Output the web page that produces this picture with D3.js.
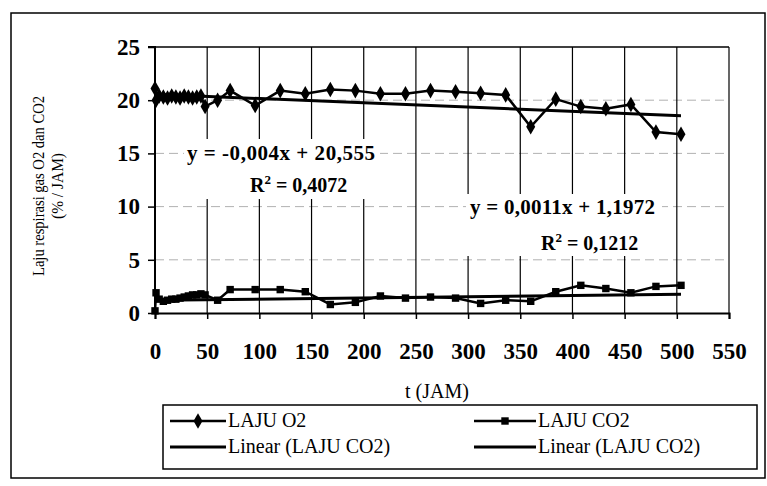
<!DOCTYPE html>
<html>
<head>
<meta charset="utf-8">
<script src="https://cdn.jsdelivr.net/npm/d3@7"></script>
<style>
  html, body { margin: 0; padding: 0; background: #fff; }
  svg { display: block; }
  svg text { font-family: "Liberation Serif", "Times New Roman", Times, serif; fill: #000; }
</style>
</head>
<body>
<svg id="chart" width="767" height="486"></svg>
<script>
// Sampling times (hours)
const times = [0, 1, 4, 8, 12, 16, 20, 24, 28, 32, 36, 40, 44, 48, 60, 72, 96, 120, 144, 168,
               192, 216, 240, 264, 288, 312, 336, 360, 384, 408, 432, 456, 480, 504];
// O2 respiration rate (% / JAM)
const lajuO2 = [21.1, 20.0, 20.4, 20.3, 20.2, 20.4, 20.3, 20.2, 20.4, 20.3, 20.2, 20.3, 20.4, 19.4,
                20.0, 20.9, 19.5, 20.9, 20.6, 21.0, 20.9, 20.6, 20.6, 20.9, 20.8, 20.65, 20.5, 17.5,
                20.1, 19.4, 19.2, 19.6, 17.0, 16.8];
// CO2 respiration rate (% / JAM)
const lajuCO2 = [0.2, 1.9, 1.3, 1.1, 1.2, 1.3, 1.3, 1.4, 1.5, 1.6, 1.7, 1.7, 1.8, 1.7,
                 1.2, 2.2, 2.2, 2.2, 2.0, 0.8, 1.0, 1.6, 1.4, 1.5, 1.4, 0.9, 1.2, 1.1,
                 2.0, 2.6, 2.3, 1.9, 2.5, 2.6];
// Linear trend lines: [slope, intercept, R²]
const trendO2 = [-0.004, 20.555, 0.4072];
const trendCO2 = [0.0011, 1.1972, 0.1212];
// Axis ticks
const xTicks = [0, 50, 100, 150, 200, 250, 300, 350, 400, 450, 500, 550];
const yTicks = [0, 5, 10, 15, 20, 25];
const legendLabels = ["LAJU O2", "LAJU CO2", "Linear (LAJU CO2)", "Linear (LAJU CO2)"];

const SERIF = '"Liberation Serif", "Times New Roman", Times, serif';
const svg = d3.select("#chart");
const plot = { left: 155, right: 729, top: 47, bottom: 313 };

const x = d3.scaleLinear().domain([0, 550]).range([plot.left, plot.right]);
const y = d3.scaleLinear().domain([0, 25]).range([plot.bottom, plot.top]);

// outer frame
svg.append("rect")
  .attr("x", 11).attr("y", 13).attr("width", 754).attr("height", 465)
  .attr("fill", "none").attr("stroke", "#000").attr("stroke-width", 1.5);

// horizontal gridlines
svg.append("g").selectAll("line")
  .data(yTicks.filter(d => d > 0 && d < 25))
  .join("line")
  .attr("x1", plot.left).attr("x2", plot.right)
  .attr("y1", d => y(d)).attr("y2", d => y(d))
  .attr("stroke", "#555").attr("stroke-width", 1).attr("stroke-dasharray", "9,5")
  .attr("opacity", 0.45);

// vertical gridlines
svg.append("g").selectAll("line")
  .data(xTicks.filter(d => d > 0))
  .join("line")
  .attr("x1", d => x(d)).attr("x2", d => x(d))
  .attr("y1", plot.top).attr("y2", plot.bottom)
  .attr("stroke", "#000").attr("stroke-width", 1.2);

// top border of the plot area
svg.append("line")
  .attr("x1", plot.left).attr("x2", plot.right)
  .attr("y1", plot.top).attr("y2", plot.top)
  .attr("stroke", "#000").attr("stroke-width", 1.5);

// axes
const xAxis = d3.axisBottom(x).tickValues(xTicks).tickSize(6).tickPadding(24).tickFormat(d3.format("d"));
const yAxis = d3.axisLeft(y).tickValues(yTicks).tickSize(7).tickPadding(8).tickFormat(d3.format("d"));

const gx = svg.append("g").attr("transform", `translate(0,${plot.bottom})`).call(xAxis);
const gy = svg.append("g").attr("transform", `translate(${plot.left},0)`).call(yAxis);
[gx, gy].forEach(g => {
  g.attr("font-family", SERIF);
  g.select(".domain").attr("stroke", "#000").attr("stroke-width", 2);
  g.selectAll(".tick line").attr("stroke", "#000").attr("stroke-width", 1.5);
  g.selectAll(".tick text")
    .style("font-family", SERIF)
    .attr("font-weight", "bold").attr("font-size", 23).attr("fill", "#000");
});
gy.select(".domain").attr("d", `M-7,${plot.top}H0V${plot.bottom}`);

// axis titles
svg.append("text")
  .attr("x", 437).attr("y", 398)
  .attr("text-anchor", "middle").attr("font-size", 20)
  .style("font-family", SERIF)
  .text("t (JAM)");

const yTitle = svg.append("text")
  .attr("transform", "translate(44,186) rotate(-90)")
  .attr("text-anchor", "middle").attr("font-size", 17)
  .style("font-family", SERIF);
yTitle.append("tspan").attr("x", 0).attr("dy", 0)
  .attr("textLength", 180).attr("lengthAdjust", "spacingAndGlyphs")
  .text("Laju respirasi gas O2 dan CO2");
yTitle.append("tspan").attr("x", 0).attr("dy", 19)
  .attr("textLength", 66).attr("lengthAdjust", "spacingAndGlyphs")
  .text("(% / JAM)");

// data
const o2Data = times.map((t, i) => ({ t, v: lajuO2[i] }));
const co2Data = times.map((t, i) => ({ t, v: lajuCO2[i] }));
const line = d3.line().x(d => x(d.t)).y(d => y(d.v));

// white panels behind the trend equations
svg.append("rect").attr("x", 184).attr("y", 139).attr("width", 196).attr("height", 60).attr("fill", "#fff");
svg.append("rect").attr("x", 466).attr("y", 194).attr("width", 196).attr("height", 62).attr("fill", "#fff");

// trend lines over the sampled range
const tExtent = d3.extent(times);
function trendPts(tr) {
  return tExtent.map(t => ({ t, v: tr[0] * t + tr[1] }));
}
svg.append("path").datum(trendPts(trendO2)).attr("d", line)
  .attr("fill", "none").attr("stroke", "#000").attr("stroke-width", 3);
svg.append("path").datum(trendPts(trendCO2)).attr("d", line)
  .attr("fill", "none").attr("stroke", "#000").attr("stroke-width", 3);

// series lines
svg.append("path").datum(o2Data).attr("d", line)
  .attr("fill", "none").attr("stroke", "#000").attr("stroke-width", 2.5);
svg.append("path").datum(co2Data).attr("d", line)
  .attr("fill", "none").attr("stroke", "#000").attr("stroke-width", 2.5);

// markers
const diamond = d3.symbol().type(d3.symbolDiamond).size(70);
const square = d3.symbol().type(d3.symbolSquare).size(55);
svg.append("g").selectAll("path").data(o2Data).join("path")
  .attr("transform", d => `translate(${x(d.t)},${y(d.v)})`)
  .attr("d", diamond).attr("fill", "#000");
svg.append("g").selectAll("path").data(co2Data).join("path")
  .attr("transform", d => `translate(${x(d.t)},${y(d.v)})`)
  .attr("d", square).attr("fill", "#000");

// trend equations
const fmt = (v, digits) => v.toFixed(digits).replace(".", ",");
function eqText(tr, dSlope, dInt) {
  return `y = ${fmt(tr[0], dSlope)}x + ${fmt(tr[1], dInt)}`;
}
function r2(g, tr) {
  g.append("tspan").text("R");
  g.append("tspan").attr("dy", -8).attr("font-size", 13).text("2");
  g.append("tspan").attr("dy", 8).text(" = " + fmt(tr[2], 4));
}
function eqLabel(px, py, size) {
  return svg.append("text").attr("x", px).attr("y", py)
    .attr("font-size", size).attr("font-weight", "bold")
    .style("font-family", SERIF);
}
eqLabel(187, 160, 21).attr("textLength", 188).attr("lengthAdjust", "spacing")
  .text(eqText(trendO2, 3, 3));
r2(eqLabel(250, 192, 20), trendO2);
eqLabel(470, 214, 21).attr("textLength", 185).attr("lengthAdjust", "spacing")
  .text(eqText(trendCO2, 4, 4));
r2(eqLabel(541, 250, 20), trendCO2);

// legend
const lg = svg.append("g");
lg.append("rect").attr("x", 163).attr("y", 405).attr("width", 594).attr("height", 64)
  .attr("fill", "#fff").attr("stroke", "#000").attr("stroke-width", 1.5);
const legendItems = [
  { x: 170, y: 421, w: 56, marker: "diamond" },
  { x: 474, y: 421, w: 62, marker: "square" },
  { x: 170, y: 447, w: 56, marker: null },
  { x: 474, y: 447, w: 62, marker: null }
];
legendItems.forEach((it, i) => {
  lg.append("line").attr("x1", it.x).attr("x2", it.x + it.w)
    .attr("y1", it.y).attr("y2", it.y)
    .attr("stroke", "#000").attr("stroke-width", it.marker ? 2.5 : 3);
  if (it.marker) {
    lg.append("path").attr("transform", `translate(${it.x + it.w / 2},${it.y})`)
      .attr("d", it.marker === "diamond" ? diamond : square).attr("fill", "#000");
  }
  lg.append("text").attr("x", it.x + it.w + 2).attr("y", it.y + 6)
    .attr("font-size", 20).style("font-family", SERIF).text(legendLabels[i]);
});
</script>
</body>
</html>
